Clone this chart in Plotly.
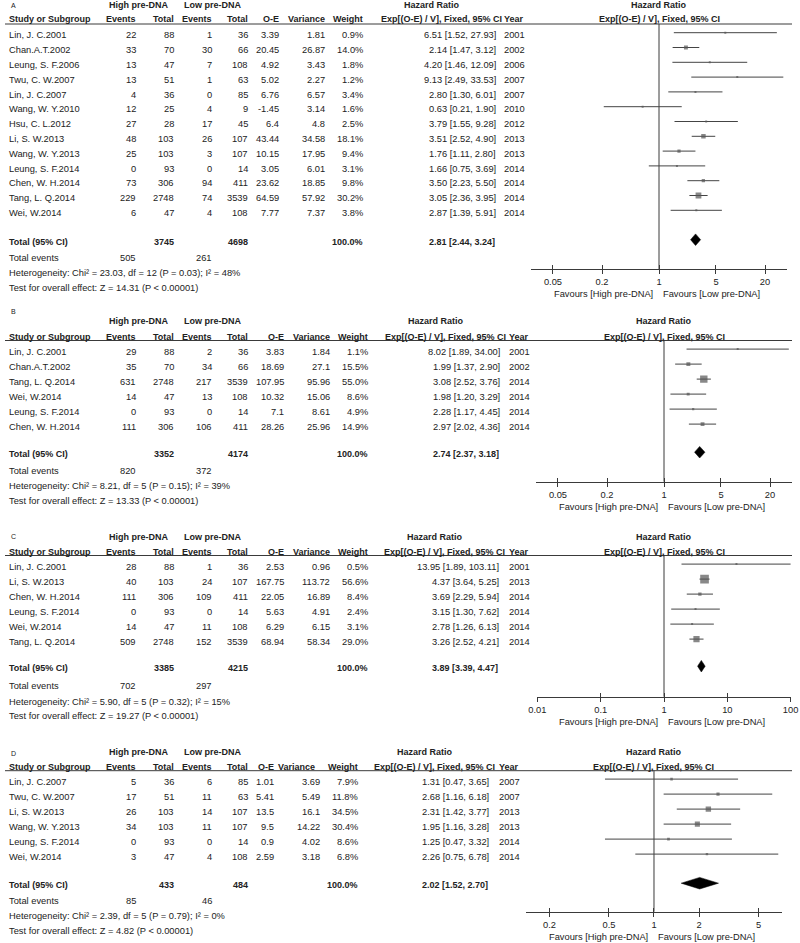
import plotly.graph_objects as go

# ---------------- DATA ----------------
# Panel A
A_study = ["Lin, J. C.2001", "Chan.A.T.2002", "Leung, S. F.2006", "Twu, C. W.2007", "Lin, J. C.2007",
           "Wang, W. Y.2010", "Hsu, C. L.2012", "Li, S. W.2013", "Wang, W. Y.2013", "Leung, S. F.2014",
           "Chen, W. H.2014", "Tang, L. Q.2014", "Wei, W.2014"]
A_hi_events = [22, 33, 13, 13, 4, 12, 27, 48, 25, 0, 73, 229, 6]
A_hi_total = [88, 70, 47, 51, 36, 25, 28, 103, 103, 93, 306, 2748, 47]
A_lo_events = [1, 30, 7, 1, 0, 4, 17, 26, 3, 0, 94, 74, 4]
A_lo_total = [36, 66, 108, 63, 85, 9, 45, 107, 107, 14, 411, 3539, 108]
A_oe = [3.39, 20.45, 4.92, 5.02, 6.76, -1.45, 6.4, 43.44, 10.15, 3.05, 23.62, 64.59, 7.77]
A_var = [1.81, 26.87, 3.43, 2.27, 6.57, 3.14, 4.8, 34.58, 17.95, 6.01, 18.85, 57.92, 7.37]
A_weight = [0.9, 14.0, 1.8, 1.2, 3.4, 1.6, 2.5, 18.1, 9.4, 3.1, 9.8, 30.2, 3.8]
A_hr = [6.51, 2.14, 4.20, 9.13, 2.80, 0.63, 3.79, 3.51, 1.76, 1.66, 3.50, 3.05, 2.87]
A_ci_lo = [1.52, 1.47, 1.46, 2.49, 1.30, 0.21, 1.55, 2.52, 1.11, 0.75, 2.23, 2.36, 1.39]
A_ci_hi = [27.93, 3.12, 12.09, 33.53, 6.01, 1.90, 9.28, 4.90, 2.80, 3.69, 5.50, 3.95, 5.91]
A_year = [2001, 2002, 2006, 2007, 2007, 2010, 2012, 2013, 2013, 2014, 2014, 2014, 2014]
A_total_n = [3745, 4698]
A_total_events = [505, 261]
A_total_hr = [2.81, 2.44, 3.24]
A_het = "Heterogeneity: Chi² = 23.03, df = 12 (P = 0.03); I² = 48%"
A_test = "Test for overall effect: Z = 14.31 (P < 0.00001)"

# Panel B
B_study = ["Lin, J. C.2001", "Chan.A.T.2002", "Tang, L. Q.2014", "Wei, W.2014", "Leung, S. F.2014", "Chen, W. H.2014"]
B_hi_events = [29, 35, 631, 14, 0, 111]
B_hi_total = [88, 70, 2748, 47, 93, 306]
B_lo_events = [2, 34, 217, 13, 0, 106]
B_lo_total = [36, 66, 3539, 108, 14, 411]
B_oe = [3.83, 18.69, 107.95, 10.32, 7.1, 28.26]
B_var = [1.84, 27.1, 95.96, 15.06, 8.61, 25.96]
B_weight = [1.1, 15.5, 55.0, 8.6, 4.9, 14.9]
B_hr = [8.02, 1.99, 3.08, 1.98, 2.28, 2.97]
B_ci_lo = [1.89, 1.37, 2.52, 1.20, 1.17, 2.02]
B_ci_hi = [34.00, 2.90, 3.76, 3.29, 4.45, 4.36]
B_year = [2001, 2002, 2014, 2014, 2014, 2014]
B_total_n = [3352, 4174]
B_total_events = [820, 372]
B_total_hr = [2.74, 2.37, 3.18]
B_het = "Heterogeneity: Chi² = 8.21, df = 5 (P = 0.15); I² = 39%"
B_test = "Test for overall effect: Z = 13.33 (P < 0.00001)"

# Panel C
C_study = ["Lin, J. C.2001", "Li, S. W.2013", "Chen, W. H.2014", "Leung, S. F.2014", "Wei, W.2014", "Tang, L. Q.2014"]
C_hi_events = [28, 40, 111, 0, 14, 509]
C_hi_total = [88, 103, 306, 93, 47, 2748]
C_lo_events = [1, 24, 109, 0, 11, 152]
C_lo_total = [36, 107, 411, 14, 108, 3539]
C_oe = [2.53, 167.75, 22.05, 5.63, 6.29, 68.94]
C_var = [0.96, 113.72, 16.89, 4.91, 6.15, 58.34]
C_weight = [0.5, 56.6, 8.4, 2.4, 3.1, 29.0]
C_hr = [13.95, 4.37, 3.69, 3.15, 2.78, 3.26]
C_ci_lo = [1.89, 3.64, 2.29, 1.30, 1.26, 2.52]
C_ci_hi = [103.11, 5.25, 5.94, 7.62, 6.13, 4.21]
C_year = [2001, 2013, 2014, 2014, 2014, 2014]
C_total_n = [3385, 4215]
C_total_events = [702, 297]
C_total_hr = [3.89, 3.39, 4.47]
C_het = "Heterogeneity: Chi² = 5.90, df = 5 (P = 0.32); I² = 15%"
C_test = "Test for overall effect: Z = 19.27 (P < 0.00001)"

# Panel D
D_study = ["Lin, J. C.2007", "Twu, C. W.2007", "Li, S. W.2013", "Wang, W. Y.2013", "Leung, S. F.2014", "Wei, W.2014"]
D_hi_events = [5, 17, 26, 34, 0, 3]
D_hi_total = [36, 51, 103, 103, 93, 47]
D_lo_events = [6, 11, 14, 11, 0, 4]
D_lo_total = [85, 63, 107, 107, 14, 108]
D_oe = [1.01, 5.41, 13.5, 9.5, 0.9, 2.59]
D_var = [3.69, 5.49, 16.1, 14.22, 4.02, 3.18]
D_weight = [7.9, 11.8, 34.5, 30.4, 8.6, 6.8]
D_hr = [1.31, 2.68, 2.31, 1.95, 1.25, 2.26]
D_ci_lo = [0.47, 1.16, 1.42, 1.16, 0.47, 0.75]
D_ci_hi = [3.65, 6.18, 3.77, 3.28, 3.32, 6.78]
D_year = [2007, 2007, 2013, 2013, 2014, 2014]
D_total_n = [433, 484]
D_total_events = [85, 46]
D_total_hr = [2.02, 1.52, 2.70]
D_het = "Heterogeneity: Chi² = 2.39, df = 5 (P = 0.79); I² = 0%"
D_test = "Test for overall effect: Z = 4.82 (P < 0.00001)"

A_ticks = [0.05, 0.2, 1, 5, 20]
B_ticks = [0.05, 0.2, 1, 5, 20]
C_ticks = [0.01, 0.1, 1, 10, 100]
D_ticks = [0.2, 0.5, 1, 2, 5]

panel_labels = ["A", "B", "C", "D"]
group_hi = "High pre-DNA"
group_lo = "Low pre-DNA"
fav_hi = "Favours [High pre-DNA]"
fav_lo = "Favours [Low pre-DNA]"

data = {
    "A": dict(study=A_study, he=A_hi_events, ht=A_hi_total, le=A_lo_events, lt=A_lo_total, oe=A_oe, var=A_var,
              w=A_weight, hr=A_hr, lo=A_ci_lo, hi=A_ci_hi, yr=A_year, tn=A_total_n, te=A_total_events,
              thr=A_total_hr, het=A_het, test=A_test, ticks=A_ticks),
    "B": dict(study=B_study, he=B_hi_events, ht=B_hi_total, le=B_lo_events, lt=B_lo_total, oe=B_oe, var=B_var,
              w=B_weight, hr=B_hr, lo=B_ci_lo, hi=B_ci_hi, yr=B_year, tn=B_total_n, te=B_total_events,
              thr=B_total_hr, het=B_het, test=B_test, ticks=B_ticks),
    "C": dict(study=C_study, he=C_hi_events, ht=C_hi_total, le=C_lo_events, lt=C_lo_total, oe=C_oe, var=C_var,
              w=C_weight, hr=C_hr, lo=C_ci_lo, hi=C_ci_hi, yr=C_year, tn=C_total_n, te=C_total_events,
              thr=C_total_hr, het=C_het, test=C_test, ticks=C_ticks),
    "D": dict(study=D_study, he=D_hi_events, ht=D_hi_total, le=D_lo_events, lt=D_lo_total, oe=D_oe, var=D_var,
              w=D_weight, hr=D_hr, lo=D_ci_lo, hi=D_ci_hi, yr=D_year, tn=D_total_n, te=D_total_events,
              thr=D_total_hr, het=D_het, test=D_test, ticks=D_ticks),
}

# ---------------- LAYOUT POSITIONS (pixels) ----------------
W, H = 800, 943
POS = {
    "A": dict(label_y=5, h1=5, h2=19.3, line=24, row0=35.3, step=14.8, tot=241.5, ev=258.3, het=273.3, test=288.3,
              oe=279.5, var=325.5, varh=325.5, wt=363.5, ci=496.5, yr=503,
              center=659, ppd=81.5, half=1.565, axis_y=269, msc=1.05),
    "B": dict(label_y=311, h1=321, h2=336.7, line=340.5, row0=351.7, step=15, tot=454, ev=470.7, het=486, test=501,
              oe=284.5, var=330.5, varh=330.5, wt=368.5, ci=500.5, yr=508,
              center=664, ppd=81.5, half=1.565, axis_y=481.7, msc=1.0),
    "C": dict(label_y=536, h1=537, h2=551.7, line=555.5, row0=566.7, step=15, tot=668, ev=686, het=701.7, test=716,
              oe=284.5, var=330.5, varh=330.5, wt=368.5, ci=500, yr=508,
              center=664, ppd=63.3, half=2.0, axis_y=696.7, msc=1.15),
    "D": dict(label_y=753, h1=751.7, h2=767, line=770.7, row0=781.7, step=15, tot=885, ev=900.7, het=916, test=931,
              oe=274.5, var=320.5, varh=316, wt=358.5, ci=489.5, yr=498,
              center=654, ppd=149.5, half=0.853, axis_y=911.7, msc=0.92),
}

FONT = "Liberation Sans, Arial, sans-serif"
TXT = "#222222"
LINE = "#3a3a3a"
MARK = "#555555"
FS = 9.3     # body text
FSB = 9.0    # bold header text

fig = go.Figure()
annotations = []
shapes = []


def txt(x, y, s, anchor="left", bold=False, size=None, xref="x", xshift=0):
    if size is None:
        size = FSB if bold else FS
    annotations.append(dict(
        x=x, y=y, xref=xref, yref="y", text=("<b>%s</b>" % s) if bold else s,
        xanchor=anchor, yanchor="middle", showarrow=False, xshift=xshift,
        font=dict(family=FONT, size=size, color=TXT), borderpad=0,
    ))


def fmt(v):
    return ("%g" % v)


layout_axes = {}
for i, key in enumerate(panel_labels):
    d = data[key]
    p = POS[key]
    n = i + 2
    twin = i + 6
    xa = "x%d" % n
    n_rows = len(d["study"])
    rows = [p["row0"] + p["step"] * k for k in range(n_rows)]

    # ---- table headers ----
    txt(10, p["label_y"], key, size=7)
    txt(108, p["h1"], group_hi, bold=True)
    txt(183, p["h1"], group_lo, bold=True)
    txt(p["ci"] - 65, p["h1"], "Hazard Ratio", anchor="center", bold=True)
    txt(8, p["h2"], "Study or Subgroup", bold=True)
    txt(137, p["h2"], "Events", anchor="right", bold=True)
    txt(174.5, p["h2"], "Total", anchor="right", bold=True)
    txt(212.5, p["h2"], "Events", anchor="right", bold=True)
    txt(249, p["h2"], "Total", anchor="right", bold=True)
    txt(p["oe"], p["h2"], "O-E", anchor="right", bold=True)
    txt(p["varh"], p["h2"], "Variance", anchor="right", bold=True)
    txt(p["wt"], p["h2"], "Weight", anchor="right", bold=True)
    txt(p["ci"] + 6, p["h2"], "Exp[(O-E) / V], Fixed, 95% CI", anchor="right", bold=True)
    txt(p["yr"], p["h2"], "Year", bold=True)
    # forest header
    txt(0, p["h1"], "Hazard Ratio", anchor="center", bold=True, xref=xa)
    txt(0, p["h2"], "Exp[(O-E) / V], Fixed, 95% CI", anchor="center", bold=True, xref=xa)

    shapes.append(dict(type="line", xref="x", yref="y", x0=5, x1=792, y0=p["line"], y1=p["line"],
                       line=dict(color=LINE, width=1)))

    # ---- study rows ----
    for k in range(n_rows):
        y = rows[k]
        txt(8, y, d["study"][k])
        txt(137, y, str(d["he"][k]), anchor="right")
        txt(174.5, y, str(d["ht"][k]), anchor="right")
        txt(212.5, y, str(d["le"][k]), anchor="right")
        txt(249, y, str(d["lt"][k]), anchor="right")
        txt(p["oe"], y, fmt(d["oe"][k]), anchor="right")
        txt(p["var"], y, fmt(d["var"][k]), anchor="right")
        txt(p["wt"], y, "%.1f%%" % d["w"][k], anchor="right")
        txt(p["ci"], y, "%.2f [%.2f, %.2f]" % (d["hr"][k], d["lo"][k], d["hi"][k]), anchor="right")
        txt(p["yr"], y, str(d["yr"][k]))

    # ---- totals ----
    txt(8, p["tot"], "Total (95% CI)", bold=True)
    txt(174.5, p["tot"], str(d["tn"][0]), anchor="right", bold=True)
    txt(249, p["tot"], str(d["tn"][1]), anchor="right", bold=True)
    txt(p["wt"], p["tot"], "100.0%", anchor="right", bold=True)
    txt(p["ci"] - 1, p["tot"], "%.2f [%.2f, %.2f]" % tuple(d["thr"]), anchor="right", bold=True)
    txt(8, p["ev"], "Total events")
    txt(137, p["ev"], str(d["te"][0]), anchor="right")
    txt(212.5, p["ev"], str(d["te"][1]), anchor="right")
    txt(8, p["het"], d["het"])
    txt(8, p["test"], d["test"])

    # ---- forest plot ----
    off = -2.6
    ci_x, ci_y = [], []
    for k in range(n_rows):
        ci_x += [d["lo"][k], d["hi"][k], None]
        ci_y += [rows[k] + off, rows[k] + off, None]
    fig.add_trace(go.Scatter(x=[1, 1], y=[p["line"], p["axis_y"]], mode="lines", xaxis=xa, yaxis="y",
                             line=dict(color=LINE, width=1), hoverinfo="skip"))
    fig.add_trace(go.Scatter(x=ci_x, y=ci_y, mode="lines", xaxis=xa, yaxis="y",
                             line=dict(color="#444444", width=1), hoverinfo="skip"))
    sizes = [max(2.0, p["msc"] * (w ** 0.5)) for w in d["w"]]
    fig.add_trace(go.Scatter(x=d["hr"], y=[r + off for r in rows], mode="markers", xaxis=xa, yaxis="y",
                             marker=dict(symbol="square", size=sizes, color=MARK, line=dict(width=0)),
                             hoverinfo="skip"))
    est, tlo, thi = d["thr"]
    yc = p["tot"] - 1.8
    hh = 5.8
    fig.add_trace(go.Scatter(x=[tlo, est, thi, est, tlo], y=[yc, yc - hh, yc, yc + hh, yc], mode="lines",
                             fill="toself", fillcolor="black", line=dict(color="black", width=0.5),
                             xaxis=xa, yaxis="y", hoverinfo="skip"))
    fig.add_trace(go.Scatter(x=[1], y=[p["axis_y"]], mode="markers", marker=dict(opacity=0),
                             xaxis="x%d" % twin, yaxis="y", hoverinfo="skip"))

    x0 = p["center"] - p["half"] * p["ppd"]
    x1 = p["center"] + p["half"] * p["ppd"]
    pos = 1 - p["axis_y"] / H
    layout_axes["xaxis%d" % n] = dict(
        type="log", range=[-p["half"], p["half"]], domain=[x0 / W, x1 / W], anchor="free", position=pos,
        showline=True, linecolor=LINE, linewidth=1, ticks="outside", ticklen=4, tickcolor=LINE, tickwidth=1,
        tickvals=d["ticks"], ticktext=[fmt(t) for t in d["ticks"]], showgrid=False, zeroline=False,
        tickfont=dict(family=FONT, size=FS, color=TXT), fixedrange=True, automargin=False,
    )
    layout_axes["xaxis%d" % twin] = dict(
        type="log", range=[-p["half"], p["half"]], overlaying=xa, anchor="free", position=pos,
        showline=False, ticks="inside", ticklen=4, tickcolor=LINE, tickwidth=1, tickvals=d["ticks"],
        showticklabels=False, showgrid=False, zeroline=False, fixedrange=True, automargin=False,
    )
    txt(0, p["axis_y"] + 25, fav_hi, anchor="right", xref=xa, xshift=-5)
    txt(0, p["axis_y"] + 25, fav_lo, anchor="left", xref=xa, xshift=3)

fig.update_layout(
    template="none",
    width=W, height=H, margin=dict(l=0, r=0, t=0, b=0, pad=0), autosize=False,
    paper_bgcolor="white", plot_bgcolor="rgba(0,0,0,0)", showlegend=False,
    xaxis=dict(range=[0, W], domain=[0, 1], visible=False, fixedrange=True, automargin=False),
    yaxis=dict(range=[H, 0], domain=[0, 1], visible=False, fixedrange=True, automargin=False),
    annotations=annotations, shapes=shapes,
    **layout_axes,
)

fig.write_html("out.html", config={"displayModeBar": False},
               post_script="document.body.style.margin='0px';")
